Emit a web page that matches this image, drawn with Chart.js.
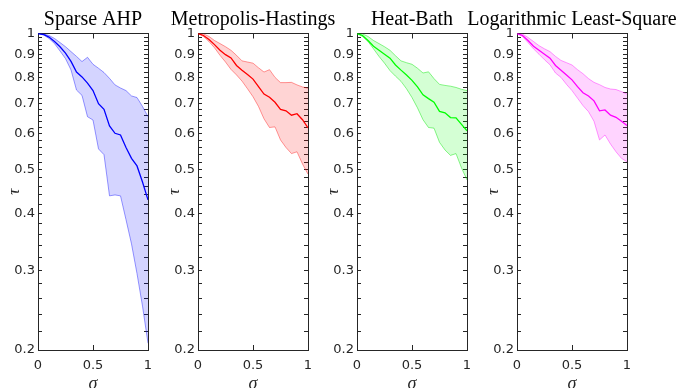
<!DOCTYPE html>
<html>
<head>
<meta charset="utf-8">
<script src="https://cdn.jsdelivr.net/npm/chart.js@4.4.0/dist/chart.umd.min.js"></script>
<style>
  html, body { margin: 0; padding: 0; background: #fff; overflow: hidden; }
  #wrap { position: relative; width: 677px; height: 388px; }
  #wrap canvas { position: absolute; top: 0; }
</style>
</head>
<body>
<div id="wrap">
  <canvas id="c0"></canvas>
  <canvas id="c1"></canvas>
  <canvas id="c2"></canvas>
  <canvas id="c3"></canvas>
</div>
<script>
// sigma values (x axis)
const sigma = [0, 0.05, 0.1, 0.15, 0.2, 0.25, 0.3, 0.35, 0.4, 0.45, 0.5,
               0.55, 0.6, 0.65, 0.7, 0.75, 0.8, 0.85, 0.9, 0.95, 1]

const titles = ['Sparse AHP', 'Metropolis-Hastings', 'Heat-Bath', 'Logarithmic Least-Square']

// tau: mean, upper and lower envelope per method
const ahpMean  = [1, 0.995, 0.982, 0.96, 0.935, 0.905, 0.868, 0.822, 0.802, 0.777, 0.748,
                  0.70, 0.68, 0.625, 0.602, 0.597, 0.56, 0.53, 0.51, 0.47, 0.429]
const ahpUpper = [1, 0.998, 0.99, 0.975, 0.955, 0.935, 0.912, 0.89, 0.867, 0.886, 0.855,
                  0.838, 0.82, 0.796, 0.77, 0.758, 0.748, 0.728, 0.722, 0.69, 0.655]
const ahpLower = [1, 0.993, 0.975, 0.95, 0.915, 0.88, 0.831, 0.75, 0.73, 0.655, 0.644,
                  0.556, 0.54, 0.438, 0.44, 0.438, 0.388, 0.343, 0.295, 0.25, 0.207]

const mhMean  = [1, 0.99, 0.97, 0.945, 0.918, 0.898, 0.883, 0.85, 0.83, 0.812, 0.793,
                 0.763, 0.735, 0.723, 0.705, 0.68, 0.675, 0.66, 0.665, 0.645, 0.619]
const mhUpper = [1, 0.998, 0.985, 0.965, 0.95, 0.935, 0.918, 0.895, 0.87, 0.865, 0.86,
                 0.84, 0.822, 0.832, 0.8, 0.779, 0.779, 0.78, 0.77, 0.762, 0.757]
const mhLower = [1, 0.985, 0.96, 0.93, 0.895, 0.865, 0.833, 0.81, 0.785, 0.755, 0.725,
                 0.69, 0.648, 0.62, 0.622, 0.582, 0.56, 0.543, 0.548, 0.515, 0.489]

const hbMean  = [1, 0.99, 0.965, 0.937, 0.918, 0.9, 0.882, 0.852, 0.83, 0.81, 0.788,
                 0.762, 0.732, 0.718, 0.705, 0.673, 0.668, 0.652, 0.651, 0.63, 0.61]
const hbUpper = [1, 0.998, 0.985, 0.965, 0.95, 0.935, 0.918, 0.893, 0.87, 0.862, 0.855,
                 0.838, 0.818, 0.823, 0.795, 0.772, 0.768, 0.765, 0.76, 0.753, 0.748]
const hbLower = [1, 0.985, 0.96, 0.925, 0.89, 0.86, 0.828, 0.805, 0.784, 0.755, 0.722,
                 0.685, 0.645, 0.62, 0.618, 0.575, 0.553, 0.538, 0.543, 0.505, 0.475]

const llsMean  = [1, 0.99, 0.965, 0.937, 0.918, 0.9, 0.882, 0.85, 0.83, 0.81, 0.79,
                  0.763, 0.74, 0.728, 0.71, 0.675, 0.678, 0.66, 0.653, 0.64, 0.626]
const llsUpper = [1, 0.997, 0.98, 0.96, 0.94, 0.925, 0.912, 0.89, 0.872, 0.862, 0.852,
                  0.832, 0.815, 0.795, 0.78, 0.771, 0.76, 0.754, 0.752, 0.744, 0.735]
const llsLower = [1, 0.985, 0.955, 0.925, 0.9, 0.875, 0.853, 0.818, 0.8, 0.772, 0.748,
                  0.72, 0.693, 0.672, 0.64, 0.582, 0.597, 0.57, 0.548, 0.53, 0.521]

// tick labels
const xTicks = [0, 0.5, 1]
const yTicks = [0.2, 0.3, 0.4, 0.5, 0.6, 0.7, 0.8, 0.9, 1]

// minor ticks every 0.02 on the log axis
const yAllTicks = []
for (let k = 10; k <= 50; k++) yAllTicks.push(k / 50)

const axisColor = '#262626'
const plotLeft = [38, 198, 357, 517]
const margin = [38, 50, 50, 50]
const plotW = 110

function isMajor(v) {
  return yTicks.some(t => Math.abs(t - v) < 1e-6)
}

function makePanel(i, lineColor, edgeColor, fillColor, lower, upper, mean) {
  const m = margin[i]
  const cv = document.getElementById('c' + i)
  cv.width = plotW + 2 * m
  cv.height = 388
  cv.style.left = (plotLeft[i] - m) + 'px'

  const pts = arr => arr.map((v, k) => ({x: sigma[k], y: v}))

  new Chart(cv, {
    type: 'line',
    data: {
      datasets: [
        {data: pts(lower), borderColor: edgeColor, borderWidth: 1, fill: false},
        {data: pts(upper), borderColor: edgeColor, borderWidth: 1, fill: '-1', backgroundColor: fillColor},
        {data: pts(mean), borderColor: lineColor, borderWidth: 1.3, fill: false}
      ]
    },
    options: {
      responsive: false,
      animation: false,
      devicePixelRatio: 1,
      layout: {padding: 0},
      elements: {point: {radius: 0}, line: {tension: 0}},
      plugins: {
        legend: {display: false},
        tooltip: {enabled: false},
        title: {
          display: true,
          text: titles[i],
          color: '#000',
          font: {family: 'Liberation Serif', size: 20, weight: 'normal'},
          padding: {top: 8, bottom: 1.5}
        }
      },
      scales: {
        x: {
          type: 'linear', position: 'bottom', min: 0, max: 1,
          afterBuildTicks: s => { s.ticks = xTicks.map(v => ({value: v})) },
          afterFit: s => { s.height = 38 },
          grid: {drawOnChartArea: false, tickLength: -5, color: axisColor},
          border: {color: axisColor, width: 1},
          ticks: {color: axisColor, padding: 13, maxRotation: 0, autoSkip: false,
                  font: {family: 'DejaVu Sans', size: 13},
                  callback: v => String(v)},
          title: {display: true, text: 'σ', color: axisColor,
                  font: {family: 'Liberation Serif', style: 'italic', size: 18},
                  padding: {top: 0, bottom: -6.8}}
        },
        x2: {
          type: 'linear', position: 'top', min: 0, max: 1,
          afterBuildTicks: s => { s.ticks = xTicks.map(v => ({value: v})) },
          afterFit: s => { s.height = 0 },
          grid: {drawOnChartArea: false, tickLength: -5, color: axisColor},
          border: {color: axisColor, width: 1},
          ticks: {display: false}
        },
        y: {
          type: 'logarithmic', position: 'left', min: 0.2, max: 1,
          afterBuildTicks: s => { s.ticks = yAllTicks.map(v => ({value: v})) },
          afterFit: s => { s.width = m },
          grid: {drawOnChartArea: false, tickLength: -4, color: axisColor},
          border: {color: axisColor, width: 1},
          ticks: {color: axisColor, padding: 7, autoSkip: false,
                  font: {family: 'DejaVu Sans', size: 13},
                  callback: v => isMajor(v) ? String(v) : ''},
          title: {display: true, text: 'τ', color: axisColor,
                  font: {family: 'Liberation Serif', style: 'italic', size: 17},
                  padding: {top: m - 33.5, bottom: 0}}
        },
        y2: {
          type: 'logarithmic', position: 'right', min: 0.2, max: 1,
          afterBuildTicks: s => { s.ticks = yAllTicks.map(v => ({value: v})) },
          afterFit: s => { s.width = m },
          grid: {drawOnChartArea: false, tickLength: -4, color: axisColor},
          border: {color: axisColor, width: 1},
          ticks: {display: false}
        }
      }
    }
  })
}

makePanel(0, '#0000ff', 'rgba(0,0,255,0.4)', 'rgba(0,0,255,0.17)', ahpLower, ahpUpper, ahpMean)
makePanel(1, '#ff0000', 'rgba(255,0,0,0.4)', 'rgba(255,0,0,0.17)', mhLower, mhUpper, mhMean)
makePanel(2, '#00ff00', 'rgba(0,230,0,0.45)', 'rgba(0,255,0,0.17)', hbLower, hbUpper, hbMean)
makePanel(3, '#ff00ff', 'rgba(255,0,255,0.4)', 'rgba(255,0,255,0.17)', llsLower, llsUpper, llsMean)
</script>
</body>
</html>
